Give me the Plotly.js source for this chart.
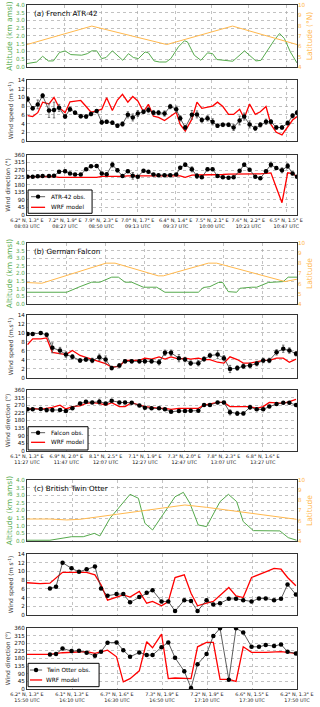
<!DOCTYPE html>
<html>
<head>
<meta charset="utf-8">
<script src="https://cdn.plot.ly/plotly-3.0.1.min.js"></script>
<style>
html, body { margin: 0; padding: 0; background: #fff; }
#grafico { width: 320px; height: 707px; }
</style>
</head>
<body>
<div id="grafico"></div>
<script>
// ---------- (a) French ATR-42, minutos desde 08:03 ----------
let tickMinA = [0, 24, 47, 70, 94, 117, 140, 164];
let coordA = ['6.2° N, 1.3° E', '7.2° N, 1.9° E', '7.9° N, 2.3° E', '7.0° N, 1.7° E', '6.4° N, 1.4° E', '7.5° N, 2.1° E', '7.6° N, 2.2° E', '6.5° N, 1.5° E'];
let horaA = ['08:03 UTC', '08:27 UTC', '08:50 UTC', '09:13 UTC', '09:37 UTC', '10:00 UTC', '10:23 UTC', '10:47 UTC'];

let altTA = [0, 4.0, 6.1, 9.9, 13.5, 16.7, 20.5, 24.1, 27.7, 34.6, 38.2, 41.0, 44.1, 47.3, 50.0, 54.0, 57.8, 60.6, 64.2, 67.3, 70.5, 74.7, 76.8, 80.4, 83.8, 88.0, 91.0, 95.8, 99.6, 101.5, 105.8, 110.0, 114.2, 117.4, 120.1, 123.9, 130.2, 137.6, 141.6, 144.8, 148.0, 152.2, 156.4, 159.8, 162.8, 166.6, 170.8];
let altA = [0.22, 0.26, 0.32, 0.69, 0.39, 0.39, 0.93, 1.04, 0.80, 0.76, 0.86, 1.04, 1.04, 0.54, 0.61, 1.04, 0.65, 0.43, 0.86, 0.61, 0.54, 0.97, 0.91, 0.39, 0.32, 0.32, 0.54, 1.30, 1.69, 1.62, 0.76, 0.43, 0.91, 0.86, 0.48, 0.43, 0.37, 1.04, 0.69, 0.39, 0.43, 1.08, 1.73, 2.16, 1.84, 0.97, 0.26];
let latTA = [0, 41.0, 88.4, 130.0, 170.8];
let latA = [6.17, 7.96, 6.17, 7.96, 6.17];

let tA = [0.4, 3.6, 6.8, 9.9, 13.9, 17.1, 20.3, 24.1, 27.2, 30.4, 34.0, 37.4, 40.5, 44.1, 47.3, 50.4, 54.0, 57.2, 60.4, 63.8, 66.9, 70.1, 73.7, 76.8, 80.0, 83.2, 87.0, 90.6, 94.4, 96.9, 100.1, 104.3, 107.5, 110.6, 114.2, 117.4, 120.5, 123.9, 127.5, 130.7, 134.5, 137.4, 140.8, 144.4, 147.6, 151.2, 154.3, 157.7, 161.3, 164.9, 168.0, 170.8];
let velObsA = [9.6, 7.5, 8.4, 10.4, 7.0, 7.1, 7.6, 5.6, 7.3, 6.5, 5.7, 5.6, 6.2, 6.9, 4.3, 4.4, 4.2, 3.5, 3.9, 6.0, 5.4, 6.3, 6.7, 7.1, 6.5, 6.5, 6.3, 7.9, 7.3, 5.2, 3.1, 6.0, 6.1, 4.8, 5.2, 4.4, 3.5, 3.7, 3.7, 3.1, 4.7, 5.6, 3.8, 2.9, 3.7, 4.4, 4.4, 3.1, 3.1, 4.1, 5.8, 6.5];
let velErrA = [0.6, 0.4, 1.0, 0.5, 1.6, 1.8, 0.8, 0.4, 0.5, 0.4, 0.4, 0.4, 0.4, 0.3, 0.5, 0.4, 0.4, 0.4, 0.5, 0.7, 0.8, 0.7, 0.4, 0.6, 0.5, 0.5, 0.6, 0.5, 0.7, 0.6, 0.5, 1.0, 0.8, 0.5, 0.6, 0.7, 0.4, 0.4, 0.4, 0.7, 1.0, 0.8, 0.8, 0.5, 0.5, 0.6, 0.5, 0.4, 0.4, 0.5, 0.5, 0.5];
let velWrfA = [5.8, 5.6, 6.5, 8.9, 8.5, 10.0, 7.7, 6.5, 9.0, 9.1, 9.3, 7.9, 6.6, 6.9, 7.3, 9.9, 7.0, 9.4, 10.7, 8.9, 10.2, 9.2, 6.7, 8.4, 5.7, 5.4, 4.7, 5.6, 6.6, 3.8, 2.3, 5.0, 8.9, 7.5, 7.7, 8.0, 8.9, 7.9, 6.1, 6.1, 7.3, 5.2, 8.5, 6.1, 6.7, 7.9, 3.8, 2.0, 1.4, 3.3, 4.8, 5.6];
let dirObsA = [230, 230, 232, 234, 234, 235, 259, 263, 249, 243, 243, 274, 292, 294, 249, 245, 302, 268, 234, 263, 235, 230, 265, 259, 243, 239, 239, 239, 243, 284, 302, 274, 234, 226, 274, 274, 234, 226, 224, 226, 265, 302, 272, 230, 220, 263, 302, 282, 268, 294, 249, 230];
let dirErrA = [4, 4, 4, 4, 4, 4, 8, 8, 6, 5, 5, 6, 6, 5, 5, 5, 15, 10, 5, 8, 20, 5, 6, 6, 5, 5, 5, 5, 5, 8, 10, 15, 15, 5, 8, 6, 5, 5, 5, 5, 8, 8, 8, 5, 5, 8, 15, 8, 15, 15, 8, 5];
let dirWrfA = [230, 230, 231, 232, 232, 230, 226, 226, 226, 226, 226, 226, 226, 226, 232, 232, 230, 230, 232, 235, 235, 237, 237, 239, 239, 239, 239, 239, 237, 235, 226, 239, 240, 240, 240, 241, 241, 243, 245, 245, 245, 243, 243, 245, 247, 250, 253, 165, 74, 253, 249, 230];

// ---------- (b) German Falcon, minutos desde 11:27 ----------
let tickMinB = [0, 20, 40, 60, 80, 100, 120];
let coordB = ['6.1° N, 1.3° E', '6.9° N, 2.0° E', '8.1° N, 2.5° E', '7.1° N, 1.9° E', '7.3° N, 2.0° E', '7.8° N, 2.3° E', '6.8° N, 1.6° E'];
let horaB = ['11:27 UTC', '11:47 UTC', '12:07 UTC', '12:27 UTC', '12:47 UTC', '13:07 UTC', '13:27 UTC'];

let altTB = [0, 20.2, 27.0, 32.9, 37.1, 43.1, 46.5, 49.9, 53.3, 59.2, 66.0, 70.2, 87.2, 89.7, 93.1, 97.4, 99.6, 102.4, 106.7, 108.4, 114.3, 116.9, 122.8, 130.4, 132.9, 137.4];
let altB = [0.77, 0.77, 1.14, 1.43, 1.43, 1.76, 1.76, 1.43, 1.43, 1.10, 1.10, 0.77, 0.77, 1.08, 1.14, 1.41, 1.41, 0.81, 0.77, 1.03, 1.10, 1.10, 1.41, 1.47, 1.76, 1.76];
let latTB = [0, 7.5, 40.2, 44.8, 66.8, 69.4, 92.3, 96.5, 131.3, 137.4];
let latB = [6.11, 6.04, 8.02, 8.02, 6.77, 6.77, 8.02, 8.02, 6.21, 6.44];

let tB = [0.3, 2.9, 7.0, 10.0, 12.9, 16.8, 19.8, 23.1, 27.0, 30.0, 33.2, 36.8, 40.0, 43.1, 47.0, 49.9, 53.3, 57.2, 60.0, 63.4, 67.2, 70.2, 73.3, 77.3, 80.4, 83.3, 87.2, 90.1, 93.1, 97.0, 100.2, 103.3, 107.0, 110.1, 113.5, 116.9, 120.2, 123.3, 127.0, 130.4, 133.5, 136.9];
let velObsB = [9.8, 9.8, 10.0, 9.6, 6.7, 6.1, 5.2, 4.7, 3.9, 4.1, 3.9, 4.6, 4.1, 2.2, 2.8, 3.7, 3.7, 3.7, 3.7, 3.7, 3.5, 5.6, 5.6, 4.4, 4.1, 3.3, 3.3, 4.2, 5.0, 5.2, 4.4, 2.0, 2.2, 2.6, 2.8, 3.2, 3.9, 3.9, 5.7, 6.5, 6.1, 5.4];
let velErrB = [0.3, 0.3, 0.3, 0.3, 1.1, 0.7, 0.6, 0.5, 0.4, 0.4, 0.5, 0.7, 0.8, 0.4, 0.4, 0.4, 0.4, 0.4, 0.4, 0.4, 0.6, 0.6, 0.6, 0.8, 0.5, 0.5, 0.6, 0.5, 0.5, 0.9, 0.6, 0.8, 0.5, 0.5, 0.5, 0.5, 0.5, 0.5, 0.6, 0.8, 0.6, 0.5];
let velWrfB = [7.4, 8.7, 8.7, 8.9, 5.7, 5.4, 5.2, 6.1, 5.0, 4.6, 4.1, 3.7, 3.2, 2.4, 2.6, 3.9, 3.9, 3.9, 4.4, 4.2, 4.7, 4.2, 4.7, 4.2, 4.4, 4.2, 4.4, 4.1, 4.1, 3.5, 3.3, 4.7, 4.1, 3.3, 3.3, 3.6, 3.9, 3.9, 4.4, 4.4, 3.5, 4.2];
let dirObsB = [246, 246, 248, 242, 242, 242, 236, 252, 281, 291, 287, 291, 281, 297, 287, 287, 285, 268, 256, 252, 252, 246, 232, 236, 236, 238, 238, 271, 271, 287, 287, 228, 222, 222, 258, 246, 246, 262, 277, 285, 285, 271];
let dirErrB = [4, 4, 4, 4, 4, 4, 5, 5, 6, 8, 6, 15, 5, 4, 4, 4, 4, 5, 5, 4, 4, 4, 5, 5, 5, 5, 5, 4, 4, 5, 5, 15, 12, 8, 12, 5, 5, 5, 5, 5, 5, 5];
let dirWrfB = [246, 252, 246, 252, 258, 271, 248, 262, 266, 281, 285, 281, 271, 285, 262, 262, 285, 271, 262, 258, 252, 252, 246, 252, 252, 252, 252, 271, 277, 287, 287, 262, 262, 262, 262, 252, 262, 287, 285, 281, 291, 305];

// ---------- (c) British Twin Otter, minutos desde 15:50 ----------
let tickMinC = [0, 20, 40, 60, 80, 100, 120];
let coordC = ['6.2° N, 1.3° E', '6.1° N, 1.3° E', '6.7° N, 1.6° E', '7.3° N, 1.9° E', '7.2° N, 1.9° E', '6.6° N, 1.5° E', '6.2° N, 1.3° E'];
let horaC = ['15:50 UTC', '16:10 UTC', '16:30 UTC', '16:50 UTC', '17:10 UTC', '17:30 UTC', '17:50 UTC'];

let altTC = [0, 10.2, 19.8, 25.0, 29.9, 32.4, 36.9, 40.6, 45.8, 49.5, 52.4, 55.8, 65.8, 69.5, 72.4, 76.1, 79.8, 85.8, 89.5, 93.2, 96.1, 100.6, 112.4, 116.1, 119.8];
let altC = [0.05, 0.05, 0.28, 0.28, 0.5, 0.33, 1.49, 2.14, 3.06, 2.8, 1.16, 0.72, 2.9, 3.19, 2.47, 1.05, 0.94, 2.58, 3.06, 2.58, 1.27, 0.68, 0.66, 0.22, 0.05];
let latTC = [0, 10.2, 17.6, 23.5, 39.8, 54.7, 70.2, 79.8, 99.1, 119.8];
let latC = [6.16, 6.16, 6.07, 6.13, 6.62, 7.05, 7.54, 7.31, 6.72, 6.13];

let tC = [10.2, 12.9, 15.8, 19.8, 23.1, 26.5, 30.2, 32.9, 35.8, 39.8, 42.8, 45.8, 49.9, 53.2, 55.8, 59.8, 62.8, 65.8, 69.9, 72.9, 75.8, 79.8, 82.8, 85.8, 89.7, 92.9, 96.1, 99.8, 103.1, 106.1, 109.8, 112.9, 115.8, 119.5];
let velObsC = [6.1, 6.5, 12.0, 10.7, 9.9, 10.5, 11.1, 6.1, 4.4, 4.8, 4.8, 2.9, 4.1, 5.1, 5.7, 3.1, 3.1, 0.9, 3.4, 3.2, 0.9, 3.4, 2.4, 2.7, 3.7, 3.7, 3.4, 3.1, 3.8, 3.8, 3.4, 3.7, 7.0, 4.7];
let dirObsC = [204, 206, 239, 224, 225, 214, 196, 220, 273, 275, 229, 190, 216, 200, 200, 247, 275, 184, 105, 6, 146, 206, 313, 358, 55, 358, 334, 249, 249, 259, 253, 263, 220, 210];
let tVelWrfC = [0, 5.8, 10.2, 15.8, 19.8, 23.1, 26.5, 30.2, 32.9, 35.8, 39.8, 42.8, 45.8, 49.9, 53.2, 55.8, 59.8, 62.8, 65.8, 69.9, 72.9, 75.8, 79.8, 82.8, 89.7, 92.9, 96.1, 99.8, 106.1, 109.8, 112.9, 115.8, 119.5];
let velWrfC = [7.4, 7.2, 7.3, 9.8, 9.8, 9.8, 9.8, 9.2, 6.9, 3.4, 4.1, 4.6, 4.1, 5.4, 2.7, 3.1, 2.1, 3.1, 8.6, 9.2, 5.0, 2.1, 2.7, 3.1, 6.3, 4.4, 4.0, 8.6, 9.9, 10.7, 10.5, 8.6, 6.7];
let tDirWrfC = [0, 10.2, 15.8, 19.8, 26.5, 30.2, 35.8, 39.8, 42.8, 45.8, 49.9, 53.2, 55.8, 59.8, 62.8, 65.8, 72.9, 75.8, 79.8, 82.8, 85.8, 89.7, 92.9, 96.1, 99.8, 106.1, 112.9, 119.5];
let dirWrfC = [204, 204, 214, 216, 220, 210, 229, 190, 42, 61, 107, 279, 243, 324, 61, 65, 61, 249, 275, 275, 57, 57, 45, 249, 216, 216, 220, 210];

// ---------- estilos ----------
let fuente = 'DejaVu Sans, Arial, sans-serif';
let verde = '#55aa4c';
let naranja = '#ffb84d';
let rojo = '#ff0000';

function etiquetas(coords, horas) {
	let salida = [];
	for (let i = 0; i < coords.length; i++) {
		salida.push(coords[i] + '<br>' + horas[i]);
	}
	return salida;
}

function ejeX(rango, vals, textos, mostrar, ancla) {
	return {
		range: rango, tickvals: vals, ticktext: textos, showticklabels: mostrar,
		anchor: ancla, domain: [0, 1], ticks: '', zeroline: false, tickangle: 0,
		showgrid: true, gridcolor: '#a8a8a8', griddash: 'dot', gridwidth: 0.7,
		showline: true, mirror: true, linecolor: '#333', linewidth: 1,
		tickfont: {family: fuente, size: 4.9, color: '#111'}
	};
}

function ejeY(dominio, rango, paso, formato, titulo, color, ancla) {
	return {
		domain: dominio, range: rango, dtick: paso, tickformat: formato, anchor: ancla,
		ticks: '', zeroline: false, tickangle: 0,
		showgrid: true, gridcolor: '#a8a8a8', griddash: 'dot', gridwidth: 0.7,
		showline: true, mirror: true, linecolor: '#333', linewidth: 1,
		tickfont: {family: fuente, size: 5.6, color: color},
		title: titulo
	};
}

function ejeLat(sobre, ancla, titulo) {
	return {
		overlaying: sobre, anchor: ancla, side: 'right', range: [4, 10], dtick: 1,
		showgrid: false, zeroline: false, ticks: '', showline: false, tickangle: 0,
		tickfont: {family: fuente, size: 5.6, color: naranja},
		title: {text: titulo, font: {family: fuente, size: 7.5, color: naranja}, standoff: 2}
	};
}

let tituloAlt = {text: 'Altitude (km amsl)', font: {family: fuente, size: 7.5, color: verde}, standoff: 2};
function tituloVel(texto) {
	return {text: texto, font: {family: fuente, size: 6.1, color: '#333'}, standoff: 3};
}
let tituloDir = {text: 'Wind direction (°)', font: {family: fuente, size: 6.1, color: '#333'}, standoff: 3};

// dominios verticales de los nueve paneles
let dom = [[0.9094, 1.0], [0.8012, 0.8904], [0.6930, 0.7807],
	[0.5629, 0.6520], [0.4547, 0.5468], [0.3480, 0.4371],
	[0.2164, 0.3056], [0.1082, 0.1974], [0.0, 0.0892]];

function linea(x, y, color, ancho, ejx, ejy, nombre) {
	return {
		x: x, y: y, type: 'scatter', mode: 'lines', name: nombre || 'linea',
		line: {color: color, width: ancho}, xaxis: ejx, yaxis: ejy,
		showlegend: false, hoverinfo: 'skip'
	};
}

function obs(x, y, err, ejx, ejy, nombre) {
	let traza = {
		x: x, y: y, type: 'scatter', mode: 'lines+markers', name: nombre,
		line: {color: '#333', width: 0.8},
		marker: {color: '#000', size: 4.5},
		xaxis: ejx, yaxis: ejy,
		showlegend: false, hoverinfo: 'skip'
	};
	if (err) {
		traza.error_y = {type: 'data', array: err, visible: true, color: '#555', thickness: 0.8, width: 1.2};
	}
	return traza;
}

let datos = [
	// (a)
	linea(altTA, altA, verde, 1, 'x', 'y', 'Altitude'),
	linea(latTA, latA, naranja, 1, 'x', 'y10', 'Latitude'),
	linea(tA, velWrfA, rojo, 1.3, 'x2', 'y2', 'WRF model'),
	obs(tA, velObsA, velErrA, 'x2', 'y2', 'ATR-42 obs.'),
	linea(tA, dirWrfA, rojo, 1.3, 'x3', 'y3', 'WRF model'),
	obs(tA, dirObsA, dirErrA, 'x3', 'y3', 'ATR-42 obs.'),
	// (b)
	linea(altTB, altB, verde, 1, 'x4', 'y4', 'Altitude'),
	linea(latTB, latB, naranja, 1, 'x4', 'y11', 'Latitude'),
	linea(tB, velWrfB, rojo, 1.3, 'x5', 'y5', 'WRF model'),
	obs(tB, velObsB, velErrB, 'x5', 'y5', 'Falcon obs.'),
	linea(tB, dirWrfB, rojo, 1.3, 'x6', 'y6', 'WRF model'),
	obs(tB, dirObsB, dirErrB, 'x6', 'y6', 'Falcon obs.'),
	// (c)
	linea(altTC, altC, verde, 1, 'x7', 'y7', 'Altitude'),
	linea(latTC, latC, naranja, 1, 'x7', 'y12', 'Latitude'),
	linea(tVelWrfC, velWrfC, rojo, 1.3, 'x8', 'y8', 'WRF model'),
	obs(tC, velObsC, null, 'x8', 'y8', 'Twin Otter obs.'),
	linea(tDirWrfC, dirWrfC, rojo, 1.3, 'x9', 'y9', 'WRF model'),
	obs(tC, dirObsC, null, 'x9', 'y9', 'Twin Otter obs.')
];

let txtA = etiquetas(coordA, horaA);
let txtB = etiquetas(coordB, horaB);
let txtC = etiquetas(coordC, horaC);
let rangoA = [0, 170.8], rangoB = [0, 137.4], rangoC = [0, 120];

// leyenda compacta dibujada en coordenadas de dominio del panel
let formas = [];
let notas = [];
function leyenda(ejx, ejy, nombreObs, p) {
	let rx = ejx + ' domain', ry = ejy + ' domain';
	formas.push({type: 'rect', xref: rx, yref: ry, x0: 0.004, x1: p.caja, y0: p.abajo, y1: p.arriba,
		fillcolor: '#fff', line: {color: '#000', width: 1}, layer: 'above'});
	formas.push({type: 'line', xref: rx, yref: ry, x0: p.l0, x1: p.l1, y0: p.e1, y1: p.e1,
		line: {color: '#333', width: 0.8}, layer: 'above'});
	let cx = (p.l0 + p.l1) / 2, rxm = 2.2 / 270, rym = 2.2 / 61;
	formas.push({type: 'circle', xref: rx, yref: ry, x0: cx - rxm, x1: cx + rxm, y0: p.e1 - rym, y1: p.e1 + rym,
		fillcolor: '#000', line: {color: '#000', width: 0}, layer: 'above'});
	formas.push({type: 'line', xref: rx, yref: ry, x0: p.l0, x1: p.l1, y0: p.e2, y1: p.e2,
		line: {color: rojo, width: 1.3}, layer: 'above'});
	notas.push({text: nombreObs, xref: rx, yref: ry, x: p.tx, y: p.e1, xanchor: 'left', yanchor: 'middle',
		showarrow: false, font: {family: fuente, size: 5.8, color: '#000'}});
	notas.push({text: 'WRF model', xref: rx, yref: ry, x: p.tx, y: p.e2, xanchor: 'left', yanchor: 'middle',
		showarrow: false, font: {family: fuente, size: 5.8, color: '#000'}});
}
leyenda('x3', 'y3', 'ATR-42 obs.', {caja: 0.241, abajo: 0.028, arriba: 0.417, e1: 0.305, e2: 0.128, l0: 0.015, l1: 0.067, tx: 0.08});
leyenda('x6', 'y6', 'Falcon obs.', {caja: 0.226, abajo: 0.016, arriba: 0.398, e1: 0.300, e2: 0.142, l0: 0.015, l1: 0.067, tx: 0.08});
leyenda('x9', 'y9', 'Twin Otter obs.', {caja: 0.267, abajo: 0.038, arriba: 0.421, e1: 0.311, e2: 0.148, l0: 0.011, l1: 0.056, tx: 0.064});

function tituloPanel(texto, ejx, ejy) {
	return {
		text: texto, xref: ejx + ' domain', yref: ejy + ' domain', x: 0.02, y: 0.86,
		xanchor: 'left', yanchor: 'middle', showarrow: false,
		font: {family: fuente, size: 7.2, color: '#000'}
	};
}
notas.push(tituloPanel('(a) French ATR-42', 'x', 'y'));
notas.push(tituloPanel('(b) German Falcon', 'x4', 'y4'));
notas.push(tituloPanel('(c) British Twin Otter', 'x7', 'y7'));

let layout = {
	width: 320, height: 707,
	margin: {l: 27, r: 23, t: 5, b: 18},
	paper_bgcolor: '#fff', plot_bgcolor: '#fff',
	font: {family: fuente},
	showlegend: false,
	xaxis: ejeX(rangoA, tickMinA, txtA, false, 'y'),
	xaxis2: ejeX(rangoA, tickMinA, txtA, false, 'y2'),
	xaxis3: ejeX(rangoA, tickMinA, txtA, true, 'y3'),
	xaxis4: ejeX(rangoB, tickMinB, txtB, false, 'y4'),
	xaxis5: ejeX(rangoB, tickMinB, txtB, false, 'y5'),
	xaxis6: ejeX(rangoB, tickMinB, txtB, true, 'y6'),
	xaxis7: ejeX(rangoC, tickMinC, txtC, false, 'y7'),
	xaxis8: ejeX(rangoC, tickMinC, txtC, false, 'y8'),
	xaxis9: ejeX(rangoC, tickMinC, txtC, true, 'y9'),
	yaxis: ejeY(dom[0], [0, 4], 0.5, '.1f', tituloAlt, verde, 'x'),
	yaxis2: ejeY(dom[1], [0, 14], 2, '', tituloVel('Wind speed (m s<sup>-1</sup>)'), '#111', 'x2'),
	yaxis3: ejeY(dom[2], [0, 360], 45, '', tituloDir, '#111', 'x3'),
	yaxis4: ejeY(dom[3], [0, 4], 0.5, '.1f', tituloAlt, verde, 'x4'),
	yaxis5: ejeY(dom[4], [0, 14], 2, '', tituloVel('Wind speed (m.s<sup>-1</sup>)'), '#111', 'x5'),
	yaxis6: ejeY(dom[5], [0, 360], 45, '', tituloDir, '#111', 'x6'),
	yaxis7: ejeY(dom[6], [0, 4], 0.5, '.1f', tituloAlt, verde, 'x7'),
	yaxis8: ejeY(dom[7], [0, 14], 2, '', tituloVel('Wind speed (m s<sup>-1</sup>)'), '#111', 'x8'),
	yaxis9: ejeY(dom[8], [0, 360], 45, '', tituloDir, '#111', 'x9'),
	yaxis10: ejeLat('y', 'x', 'Latitude (°N)'),
	yaxis11: ejeLat('y4', 'x4', 'Latitude'),
	yaxis12: ejeLat('y7', 'x7', 'Latitude'),
	shapes: formas,
	annotations: notas
};

let contenedor = document.getElementById('grafico');
Plotly.newPlot(contenedor, datos, layout, {displayModeBar: false, staticPlot: true});
</script>
</body>
</html>
